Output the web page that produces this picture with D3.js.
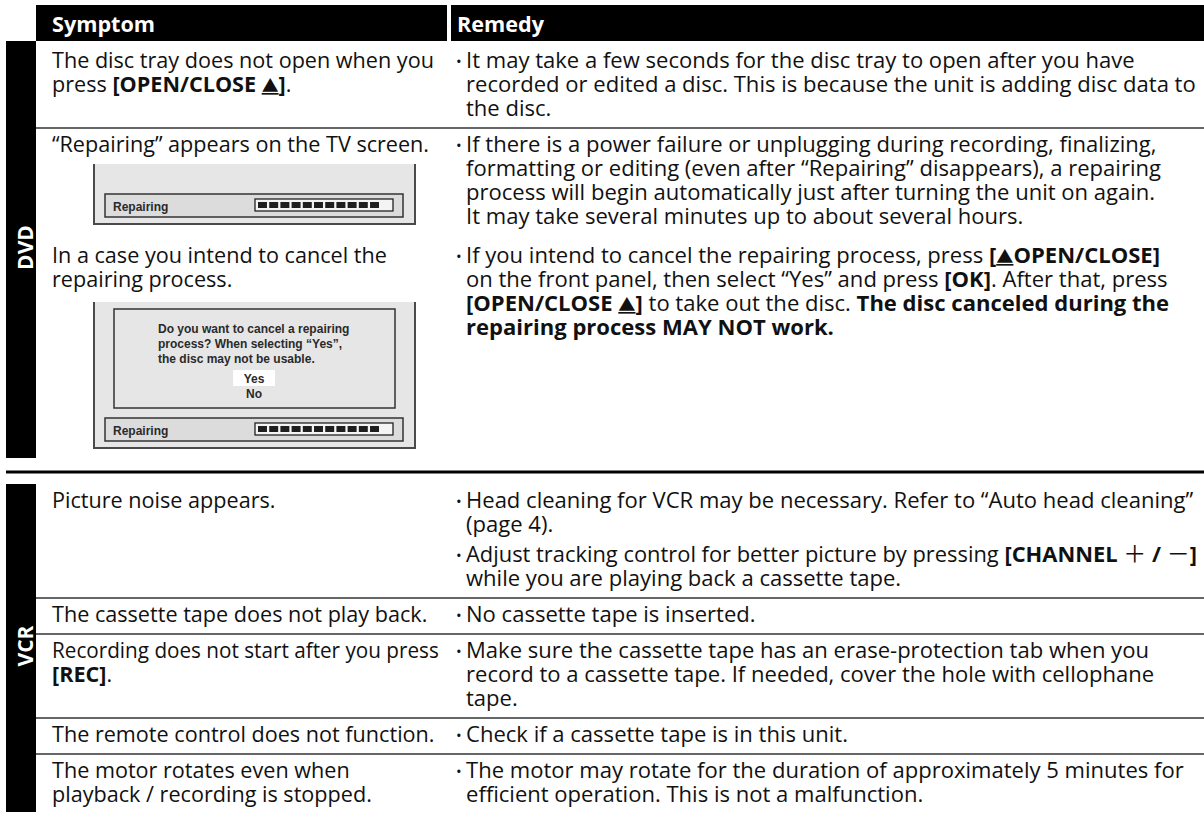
<!DOCTYPE html>
<html><head><meta charset="utf-8">
<script src="https://cdn.jsdelivr.net/npm/d3@7/dist/d3.min.js"></script>
<style>html,body{margin:0;padding:0;background:#fff}svg{display:block}text{white-space:pre}</style>
</head><body>
<svg id="chart" width="1204" height="818"></svg>
<script>
// ---------------- data ----------------
const headers = ["Symptom", "Remedy"];
const sectionLabels = ["DVD", "VCR"];

const dvdSymptoms = [
  [["The disc tray does not open when you", "press **[OPEN/CLOSE ▲]**."]],
  [["“Repairing” appears on the TV screen."],
   ["In a case you intend to cancel the", "repairing process."]]
];
const dvdScreens = [[], ["progress", "dialog"]];
const dvdRemedies = [
  [["It may take a few seconds for the disc tray to open after you have",
    "recorded or edited a disc. This is because the unit is adding disc data to",
    "the disc."]],
  [["If there is a power failure or unplugging during recording, finalizing,",
    "formatting or editing (even after “Repairing” disappears), a repairing",
    "process will begin automatically just after turning the unit on again.",
    "It may take several minutes up to about several hours."],
   ["If you intend to cancel the repairing process, press **[▲OPEN/CLOSE]**",
    "on the front panel, then select “Yes” and press **[OK]**. After that, press",
    "**[OPEN/CLOSE ▲]** to take out the disc. **The disc canceled during the**",
    "**repairing process MAY NOT work.**"]]
];
const vcrSymptoms = [
  ["Picture noise appears."],
  ["The cassette tape does not play back."],
  ["Recording does not start after you press", "**[REC]**."],
  ["The remote control does not function."],
  ["The motor rotates even when", "playback / recording is stopped."]
];
const vcrRemedies = [
  [["Head cleaning for VCR may be necessary. Refer to “Auto head cleaning”", "(page 4)."],
   ["Adjust tracking control for better picture by pressing **[CHANNEL ＋ / －]**", "while you are playing back a cassette tape."]],
  [["No cassette tape is inserted."]],
  [["Make sure the cassette tape has an erase-protection tab when you",
    "record to a cassette tape. If needed, cover the hole with cellophane", "tape."]],
  [["Check if a cassette tape is in this unit."]],
  [["The motor may rotate for the duration of approximately 5 minutes for",
    "efficient operation. This is not a malfunction."]]
];
const screenLabel = "Repairing";
const progressBlocks = d3.range(11);
const dialogLines = ["Do you want to cancel a repairing", "process? When selecting “Yes”,", "the disc may not be usable."];
const dialogChoices = ["Yes", "No"];

// ---------------- layout ----------------
const W = 1204, H = 818;
const FONT = "'Open Sans','Noto Sans',sans-serif";
const FS = 21.5;
const LH = 24, PAD_T = 24, PAD_B = 12, BGAP = 6;
const barX = d3.scaleLinear().domain([0, 1]).range([6, 36]);
const colX = d3.scaleOrdinal().domain(headers).range([36, 451]);
const colTextX = d3.scaleOrdinal().domain(headers).range([52, 466]);
const colMaxX = d3.scaleOrdinal().domain(headers).range([439, 1197]);
const colFactor = d3.scaleOrdinal().domain(headers).range([1.0, 1.02]);
const bulletX = 457;
const RIGHT = W;

const svg = d3.select("#chart");

// calibrate horizontal compression so the font matches the reference width
const probe = svg.append("text").attr("font-family", FONT).attr("font-size", FS)
  .text("In a case you intend to cancel the");
const K = 335 / probe.node().getComputedTextLength();
probe.remove();

function parse(s) {
  return s.split("**").map((t, i) => ({ t, b: i % 2 === 1 })).filter(p => p.t.length);
}
function drawLine(g, col, y, str) {
  const x = colTextX(col);
  const t = g.append("text")
    .attr("font-family", FONT).attr("font-size", FS).attr("fill", "#111");
  parse(str).forEach(seg => {
    seg.t.split(/([▲＋－])/).filter(Boolean).forEach(piece => {
      const ts = t.append("tspan").text(piece).attr("font-weight", seg.b ? 700 : 400);
      if (piece === "▲") {
        ts.attr("font-family", "'Noto Sans CJK JP'").attr("font-size", FS * 0.78)
          .attr("text-decoration", "underline");
      } else if (piece === "＋" || piece === "－") {
        ts.attr("font-family", "'Noto Sans CJK JP'").attr("font-weight", 400).attr("font-size", FS * 1.05);
      }
    });
  });
  const w = t.node().getComputedTextLength();
  let sx = K * colFactor(col);
  if (x + w * sx > colMaxX(col)) sx = (colMaxX(col) - x) / w;
  t.attr("transform", `translate(${x},${y}) scale(${sx},1)`);
  return t;
}
function drawBullets(g, bullets, y0) {
  let y = y0;
  bullets.forEach((lines, bi) => {
    if (bi > 0) y += BGAP;
    g.append("text").attr("x", bulletX - 1).attr("y", y - 1).attr("font-family", FONT)
      .attr("font-size", 15).attr("fill", "#111").text("•");
    lines.forEach((l, li) => { drawLine(g, "Remedy", y, l); if (li < lines.length - 1) y += LH; });
    y += LH;
  });
}
function sep(y) {
  svg.append("line").attr("x1", colX("Symptom")).attr("x2", RIGHT).attr("y1", y).attr("y2", y)
    .attr("stroke", "#333").attr("stroke-width", 1.4);
}
function sectionBar(label, y0, y1) {
  svg.append("rect").attr("x", barX(0)).attr("y", y0).attr("width", barX(1) - barX(0))
    .attr("height", y1 - y0).attr("fill", "#000");
  svg.append("text").attr("transform", `translate(${barX(1) - 3},${(y0 + y1) / 2 - 2}) rotate(-90)`)
    .attr("text-anchor", "middle").attr("font-family", FONT).attr("font-weight", 700)
    .attr("font-size", 21).attr("fill", "#fff").text(label);
}

// screen pictures
const SX0 = 94, SX1 = 415;
const blockX = d3.scaleBand().domain(progressBlocks).range([258, 379]).paddingInner(0.2);
const SFONT = "'Liberation Sans',Arial,sans-serif";
function drawScreen(kind, top) {
  const h = kind === "dialog" ? 146 : 60;
  const bottom = top + h;
  const g = svg.append("g");
  g.append("rect").attr("x", SX0).attr("y", top).attr("width", SX1 - SX0).attr("height", h).attr("fill", "#e6e6e6");
  g.append("path").attr("d", `M${SX0},${top}V${bottom}H${SX1}V${top}`).attr("fill", "none")
    .attr("stroke", "#4a4a4a").attr("stroke-width", 2);
  if (kind === "dialog") {
    g.append("rect").attr("x", 114).attr("y", top + 7).attr("width", 281).attr("height", 99)
      .attr("fill", "#e6e6e6").attr("stroke", "#333").attr("stroke-width", 1.5);
    dialogLines.forEach((l, i) => g.append("text").attr("x", 158).attr("y", top + 31 + i * 15)
      .attr("font-family", SFONT).attr("font-weight", 700)
      .attr("font-size", 12).attr("fill", "#2a2a2a").text(l));
    g.append("rect").attr("x", 233).attr("y", top + 68).attr("width", 42).attr("height", 16).attr("fill", "#fff");
    dialogChoices.forEach((c, i) => g.append("text").attr("x", 254).attr("y", top + 81 + i * 14.5)
      .attr("text-anchor", "middle").attr("font-family", SFONT)
      .attr("font-weight", 700).attr("font-size", 12).attr("fill", "#2a2a2a").text(c));
  }
  const bt = bottom - 30;
  g.append("rect").attr("x", 105).attr("y", bt).attr("width", 298).attr("height", 23)
    .attr("fill", "#dcdcdc").attr("stroke", "#333").attr("stroke-width", 1.5);
  g.append("text").attr("x", 113).attr("y", bt + 16.5).attr("font-family", SFONT)
    .attr("font-weight", 700).attr("font-size", 12).attr("fill", "#2a2a2a").text(screenLabel);
  g.append("rect").attr("x", 255).attr("y", bt + 5).attr("width", 138).attr("height", 12)
    .attr("fill", "#f4f4f4").attr("stroke", "#222").attr("stroke-width", 1.3);
  g.selectAll(null).data(progressBlocks).join("rect")
    .attr("x", d => blockX(d)).attr("y", bt + 8).attr("width", blockX.bandwidth()).attr("height", 6)
    .attr("fill", "#1e1e1e");
  return bottom;
}

// header
const HY0 = 5, HY1 = 41;
svg.append("rect").attr("x", colX("Symptom")).attr("y", HY0).attr("width", 447 - colX("Symptom")).attr("height", HY1 - HY0).attr("fill", "#000");
svg.append("rect").attr("x", colX("Remedy")).attr("y", HY0).attr("width", RIGHT - colX("Remedy")).attr("height", HY1 - HY0).attr("fill", "#000");
headers.forEach(hd => {
  svg.append("text").attr("transform", `translate(${hd === "Remedy" ? bulletX : colTextX(hd)},32) scale(${K},1)`)
    .attr("font-family", FONT).attr("font-weight", 700).attr("font-size", FS).attr("fill", "#fff").text(hd);
});

// DVD section
const content = svg.append("g");
let y = HY1 + 3;
// row 1
{
  const top = y;
  const sy = top + PAD_T;
  dvdSymptoms[0][0].forEach((l, i) => drawLine(content, "Symptom", sy + i * LH, l));
  drawBullets(content, dvdRemedies[0], sy);
  const nLines = d3.max([dvdSymptoms[0][0].length, d3.sum(dvdRemedies[0], b => b.length)]);
  y = top + PAD_T + (nLines - 1) * LH + PAD_B;
  sep(y);
}
// row 2 (with screen pictures)
{
  const top = y;
  let cy = top + PAD_T;
  const partY = [];
  dvdSymptoms[1].forEach((lines, pi) => {
    if (pi > 0) cy += 39;
    partY.push(cy);
    lines.forEach((l, i) => drawLine(content, "Symptom", cy + i * LH, l));
    cy += (lines.length - 1) * LH;
    const kind = dvdScreens[1][pi];
    cy = drawScreen(kind, cy + (kind === "dialog" ? 15 : 12));
  });
  dvdRemedies[1].forEach((b, bi) => drawBullets(content, [b], partY[bi]));
  y = cy + 10;
}
const dvdBottom = y;
sectionBar(sectionLabels[0], HY1, dvdBottom);

// thick divider
const thickY = dvdBottom + 14;
svg.append("rect").attr("x", barX(0)).attr("y", thickY - 1.5).attr("width", RIGHT - barX(0)).attr("height", 3).attr("fill", "#000");

// VCR section
const vcrTop = thickY + 12;
y = vcrTop;
vcrSymptoms.forEach((sym, ri) => {
  const top = y;
  const sy = top + PAD_T;
  sym.forEach((l, i) => drawLine(content, "Symptom", sy + i * LH, l));
  drawBullets(content, vcrRemedies[ri], sy);
  const rl = d3.sum(vcrRemedies[ri], b => b.length);
  const rh = (rl - 1) * LH + (vcrRemedies[ri].length - 1) * BGAP;
  const sh = (sym.length - 1) * LH;
  y = top + PAD_T + Math.max(rh, sh) + PAD_B;
  if (ri < vcrSymptoms.length - 1) sep(y);
});
sectionBar(sectionLabels[1], vcrTop, y - 2);
</script>
</body></html>
